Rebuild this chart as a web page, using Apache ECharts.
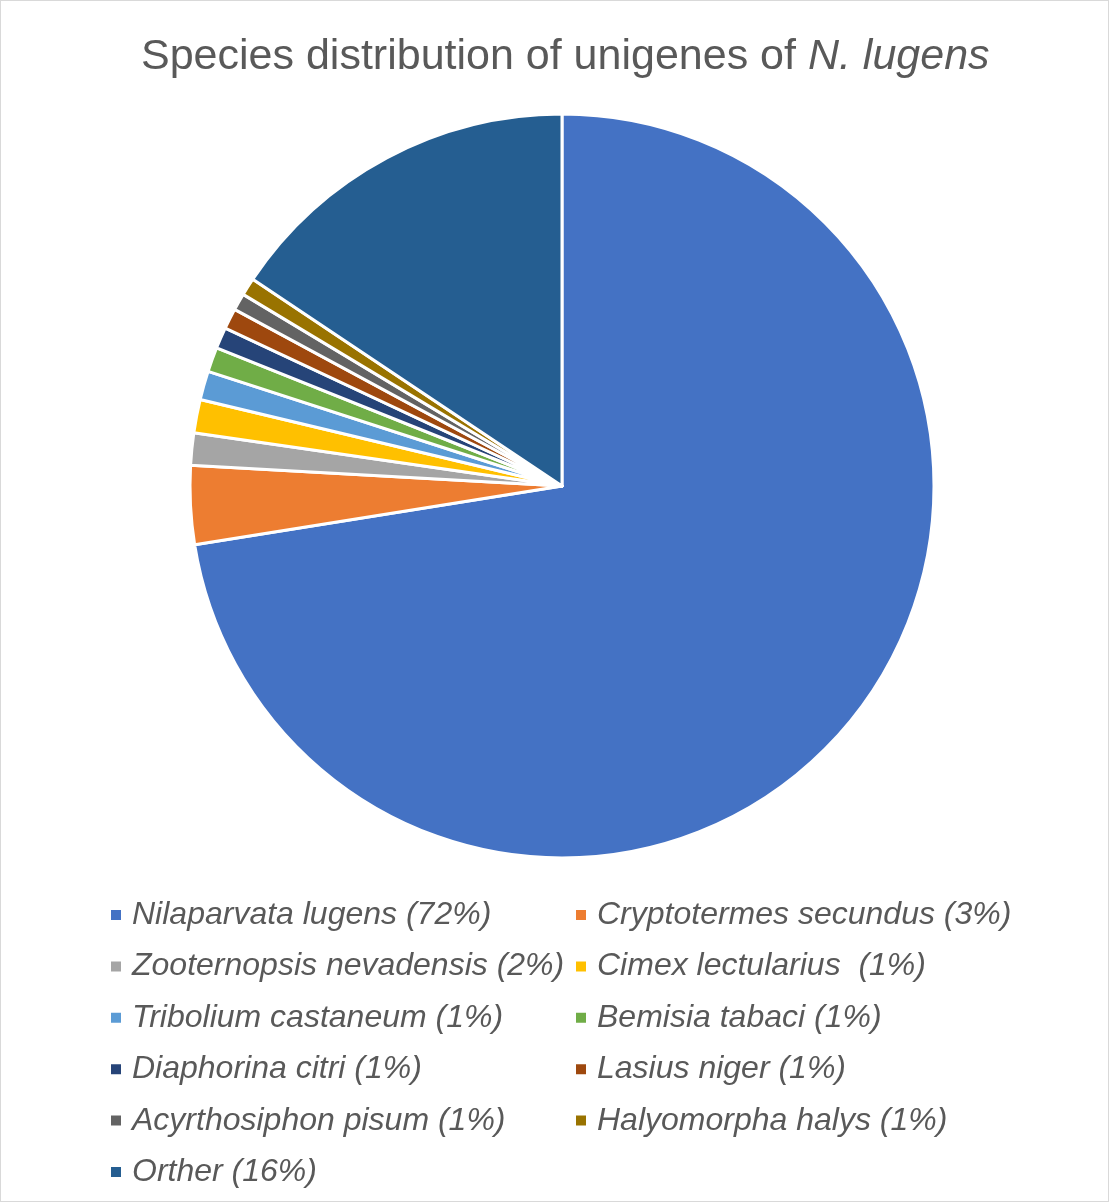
<!DOCTYPE html>
<html>
<head>
<meta charset="utf-8">
<title>Species distribution of unigenes of N. lugens</title>
<script src="https://cdn.jsdelivr.net/npm/echarts@6/dist/echarts.min.js"></script>
<style>
  html, body { margin: 0; padding: 0; background: #fff; }
  #chart { width: 1107px; height: 1200px; border: 1px solid #d9d9d9; }
</style>
</head>
<body>
<div id="chart"></div>
<script>
// species names as in the legend
const speciesNames = [
  "Nilaparvata lugens (72%)",
  "Cryptotermes secundus (3%)",
  "Zooternopsis nevadensis (2%)",
  "Cimex lectularius  (1%)",
  "Tribolium castaneum (1%)",
  "Bemisia tabaci (1%)",
  "Diaphorina citri (1%)",
  "Lasius niger (1%)",
  "Acyrthosiphon pisum (1%)",
  "Halyomorpha halys (1%)",
  "Orther (16%)"
];
// share of unigenes (%)
const speciesShare = [72.4, 3.4, 1.4, 1.45, 1.25, 1.07, 0.92, 0.89, 0.74, 0.77, 15.6];

const sliceColors = [
  "#4472C4", "#ED7D31", "#A5A5A5", "#FFC000", "#5B9BD5",
  "#70AD47", "#264478", "#9E480E", "#636363", "#997300", "#255E91"
];

const chart = echarts.init(document.getElementById("chart"));

const legendText = {
  fontFamily: "Liberation Sans, Arial, sans-serif",
  fontStyle: "italic",
  fontSize: 32,
  lineHeight: 34,
  color: "#595959",
  padding: [0, 0, 0, 5]
};

const legendBase = {
  orient: "vertical",
  top: 897,
  padding: 0,
  itemGap: 17.4,
  itemWidth: 12,
  itemHeight: 12,
  icon: "rect",
  selectedMode: false,
  textStyle: legendText
};

const titleFont = {
  fontFamily: "Liberation Sans, Arial, sans-serif",
  fontSize: 43,
  fontWeight: "normal",
  color: "#595959"
};

const option = {
  color: sliceColors,
  title: {
    left: 135,
    top: 30,
    text: "{a|Species distribution of unigenes of }{b|N. lugens}",
    textStyle: {
      fontWeight: "normal",
      rich: {
        a: titleFont,
        b: Object.assign({}, titleFont, { fontStyle: "italic" })
      }
    }
  },
  legend: [
    Object.assign({}, legendBase, {
      left: 108,
      data: speciesNames.filter((n, i) => i % 2 === 0)
    }),
    Object.assign({}, legendBase, {
      left: 573,
      data: speciesNames.filter((n, i) => i % 2 === 1)
    })
  ],
  series: [
    {
      type: "pie",
      center: [561, 485],
      radius: 372,
      startAngle: 90,
      clockwise: true,
      animation: false,
      label: { show: false },
      labelLine: { show: false },
      itemStyle: { borderColor: "#fff", borderWidth: 3 },
      emphasis: { disabled: true },
      data: speciesNames.map((n, i) => ({ name: n, value: speciesShare[i] }))
    }
  ]
};

chart.setOption(option);
</script>
</body>
</html>
